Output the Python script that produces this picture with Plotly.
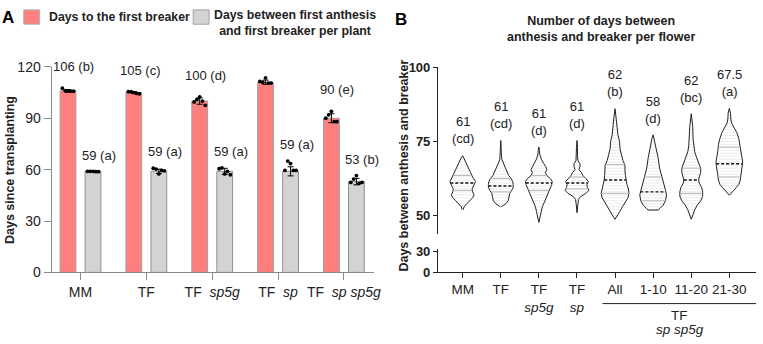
import numpy as np
import plotly.graph_objects as go

W, H = 763, 344
def px(x): return x / W
def py(y): return 1 - y / H

FONT = "Arial, Liberation Sans, sans-serif"
RED = "#FF7F7F"
GREY = "#D3D3D3"
AX_A = "#8a8a8a"

# ---------------- Panel A data ----------------
genotypes = ["MM", "TF", "TF\u00a0\u00a0<i>sp5g</i>", "TF\u00a0\u00a0<i>sp</i>",
             "TF\u00a0\u00a0<i>sp</i>\u00a0<i>sp5g</i>"]
breaker_days = [106, 105, 100, 111, 90]
breaker_letters = ["b", "c", "d", "a", "e"]
breaker_points = [[107.5, 106, 105.8, 105.8, 105.8],
                  [105.5, 105.5, 105, 104.5, 104.3],
                  [99.5, 101, 102.5, 100, 97.5],
                  [111.5, 111, 113.5, 110.5, 110.5],
                  [90, 92, 94, 88, 88]]
anthesis_days = [59, 59, 59, 59, 53]
anthesis_letters = ["a", "a", "a", "a", "b"]
anthesis_points = [[59, 59, 59, 58.8, 58.8],
                   [60.8, 60.3, 57.5, 59.5, 59.3],
                   [60.5, 61, 57.5, 59, 57],
                   [59.5, 65, 63.5, 59.5, 59.5],
                   [52.5, 54.5, 56.5, 52, 52.5]]
legend_labels = ["Days to the first breaker",
                 "Days between first anthesis<br>and first breaker per plant"]

# ---------------- Panel B data ----------------
flower_groups = ["MM", "TF", "TF<br><i>sp5g</i>", "TF<br><i>sp</i>", "All", "1-10", "11-20", "21-30"]
flower_medians = [61, 60, 61, 61, 62, 58, 62, 67.5]
flower_q1 = [58.5, 58, 58.5, 59, 57.5, 55, 57.5, 63]
flower_q3 = [63.5, 62.5, 63.5, 63, 67.2, 63, 66, 73.1]
flower_labels = ["61<br>(cd)", "61<br>(cd)", "61<br>(d)", "61<br>(d)", "62<br>(b)",
                 "58<br>(d)", "62<br>(bc)", "67.5<br>(a)"]

mm_days = [52, 53, 54, 55, 56, 57, 58, 59, 60, 61, 61.5, 62, 63, 64.5, 66, 68, 69.5, 70.2]
mm_density = [0.5, 1.5, 4, 7, 10, 11.5, 10, 9.5, 11, 12.5, 13, 12, 10, 8, 6, 3.5, 1.5, 0]
tf_days = [53, 53.3, 54, 55, 56.5, 57.5, 58.5, 59.5, 60.5, 61.5, 62.5, 63.5, 65, 66.5, 68, 69, 70, 72, 75.3]
tf_density = [0.5, 2, 5, 7.5, 8.5, 9, 11, 12.5, 12.5, 12, 10.5, 8, 6, 4, 2, 1, 0.7, 0.5, 0]
sp5g_days = [47.7, 48.5, 50, 51.5, 53, 54.5, 56, 57.5, 59, 60.5, 61.5, 62.5, 63.5, 64.5, 65.5, 66.5, 67.5, 69, 70.5, 72, 73.1]
sp5g_density = [0, 0.8, 1.5, 2.5, 3.5, 5.5, 7.5, 9, 11, 13, 13.5, 11.5, 8, 6.5, 8, 7, 5, 2.5, 1, 0.6, 0]
sp_days = [51, 52, 54, 55.5, 56.5, 57.5, 58.5, 59.5, 60.5, 61.5, 62.5, 63.5, 64.5, 65.5, 66.5, 67.5, 68.5, 70, 73, 75.3]
sp_density = [0, 0.5, 0.8, 1.5, 4, 9, 12, 10.5, 10, 11.5, 9, 6, 4.5, 2, 3, 3, 1, 0.5, 0.5, 0]
all_days = [48.8, 49.5, 50.5, 51.5, 53, 54.5, 56, 57.5, 59, 60.5, 62, 63.5, 65, 67, 68.5, 70.5, 72.5, 75, 77, 80, 83, 86]
all_density = [0, 1.5, 3.5, 5, 7.5, 10.5, 13, 14, 13.5, 12, 11, 10.5, 10, 10, 8, 6.5, 5, 4.5, 3, 2, 1.2, 0]
p1_10_days = [51.9, 51.9, 52.5, 53.5, 55, 57, 58.5, 60.5, 62, 64, 66, 69.5, 72, 74, 76, 77.2]
p1_10_density = [0, 5, 7, 10, 12.5, 13.5, 12.5, 11, 10, 8, 6.5, 5, 3.5, 2.5, 1.2, 0]
p11_20_days = [48.8, 49.5, 50.5, 52, 53.5, 55, 56.5, 58, 59.5, 61, 62, 63, 64.5, 66, 67.5, 69.5, 71.5, 73.5, 76, 80, 84.3]
p11_20_density = [0, 1, 2, 3.5, 6, 9.5, 11.5, 11.5, 10.5, 8, 7.5, 8, 9.5, 9.5, 7.5, 5.5, 3.5, 2.5, 1.8, 1.5, 0]
p21_30_days = [56.9, 57.5, 58.5, 59.5, 60.5, 62, 63.5, 65, 66.5, 68, 70, 72, 74, 76, 78, 79.5, 81, 82.5, 84.5, 86.1]
p21_30_density = [0, 2, 4.5, 7, 9.5, 11, 11.5, 12, 13, 13.5, 12.5, 11.5, 11, 9.5, 7.5, 5, 2.5, 1.5, 1.2, 0]

violin_days = [mm_days, tf_days, sp5g_days, sp_days, all_days, p1_10_days, p11_20_days, p21_30_days]
violin_density = [mm_density, tf_density, sp5g_density, sp_density, all_density,
                  p1_10_density, p11_20_density, p21_30_density]

fig = go.Figure()

# ---------------- Panel A traces ----------------
OFF = 0.19
BW = 0.24
xa = np.arange(len(genotypes))
red_sd = [float(np.std(p, ddof=1)) for p in breaker_points]
grey_sd = [float(np.std(p, ddof=1)) for p in anthesis_points]
fig.add_trace(go.Bar(x=xa - OFF, y=breaker_days, width=BW, marker=dict(color=RED, line=dict(color="#a0a0a0", width=1)),
                     error_y=dict(type="data", array=red_sd, color="black", thickness=1, width=3),
                     xaxis="x", yaxis="y", showlegend=False, hoverinfo="skip"))
fig.add_trace(go.Bar(x=xa + OFF, y=anthesis_days, width=BW, marker=dict(color=GREY, line=dict(color="#909090", width=1)),
                     error_y=dict(type="data", array=grey_sd, color="black", thickness=1, width=3),
                     xaxis="x", yaxis="y", showlegend=False, hoverinfo="skip"))
dx = [-0.085, -0.042, 0, 0.042, 0.085]
for pts_list, off in ((breaker_points, -OFF), (anthesis_points, OFF)):
    xs, ys = [], []
    for i, pts in enumerate(pts_list):
        for j, v in enumerate(pts):
            xs.append(i + off + dx[j])
            ys.append(v)
    fig.add_trace(go.Scatter(x=xs, y=ys, mode="markers", marker=dict(color="black", size=3.8),
                             xaxis="x", yaxis="y", showlegend=False, hoverinfo="skip"))

annotations = []
for i in range(len(genotypes)):
    annotations.append(dict(x=i - OFF, y=max(breaker_points[i]) + 12.5, xref="x", yref="y",
                            text=f"{breaker_days[i]} ({breaker_letters[i]})", showarrow=False,
                            xshift=6, font=dict(size=13, color="#222")))
    annotations.append(dict(x=i + OFF, y=max(anthesis_points[i]) + 9.5, xref="x", yref="y",
                            text=f"{anthesis_days[i]} ({anthesis_letters[i]})", showarrow=False,
                            xshift=6, font=dict(size=13, color="#222")))

# ---------------- Panel B traces ----------------
S = 1 / 38.43  # category units per density unit
for i, (vd, dens) in enumerate(zip(violin_days, violin_density)):
    vd = np.array(vd, float); dens = np.array(dens, float)
    lx, ly = [], []
    for k in np.arange(np.ceil(vd[0]), np.floor(vd[-1]) + 1):
        w = np.interp(k, vd, dens) * S
        if w > 0.02:
            lx += [i - w * 0.92, i + w * 0.92, None]; ly += [k, k, None]
    fig.add_trace(go.Scatter(x=lx, y=ly, mode="lines", line=dict(color="#e2e2e2", width=0.7),
                             xaxis="x2", yaxis="y2", showlegend=False, hoverinfo="skip"))
    xs = list(i + dens * S) + list(i - dens[::-1] * S)
    ys = list(vd) + list(vd[::-1])
    fig.add_trace(go.Scatter(x=xs, y=ys, mode="lines", line=dict(color="#222", width=1),
                             xaxis="x2", yaxis="y2", showlegend=False, hoverinfo="skip"))
    for q in (flower_q1[i], flower_q3[i]):
        w = np.interp(q, vd, dens) * S
        fig.add_trace(go.Scatter(x=[i - w, i + w], y=[q, q], mode="lines", line=dict(color="#b0b0b0", width=0.9),
                                 xaxis="x2", yaxis="y2", showlegend=False, hoverinfo="skip"))
    m = flower_medians[i]
    w = np.interp(m, vd, dens) * S
    fig.add_trace(go.Scatter(x=[i - w, i + w], y=[m, m], mode="lines",
                             line=dict(color="#111", width=1.4, dash="3px,2px"),
                             xaxis="x2", yaxis="y2", showlegend=False, hoverinfo="skip"))
    annotations.append(dict(x=i, y=vd[-1] + 8.5, xref="x2", yref="y2", text=flower_labels[i],
                            showarrow=False, font=dict(size=13, color="#222")))

fig.add_trace(go.Scatter(x=[None], y=[None], xaxis="x2", yaxis="y3", showlegend=False, hoverinfo="skip"))

# ---------------- Text / legend ----------------
extra = [
    dict(x=px(8.5), y=py(10), text="<b>A</b>", font=dict(size=17, color="black")),
    dict(x=px(405), y=py(12), text="<b>B</b>", font=dict(size=17, color="black")),
    dict(x=px(47), y=py(9.5), text=f"<b>{legend_labels[0]}</b>", xanchor="left", font=dict(size=12.3, color="#222")),
    dict(x=px(298), y=py(16), text=f"<b>{legend_labels[1]}</b>", font=dict(size=12.3, color="#222")),
    dict(x=px(10), y=py(170), text="<b>Days since transplanting</b>", textangle=-90, font=dict(size=12.5, color="#222")),
    dict(x=px(408), y=py(165), text="<b>Days between anthesis and breaker</b>", textangle=-90,
         font=dict(size=12.5, color="#222")),
    dict(x=px(607), y=py(21.5), text="<b>Number of days between<br>anthesis and breaker per flower</b>",
         font=dict(size=12.5, color="#222")),
    dict(x=px(686), y=py(322), text="TF", font=dict(size=13.5, color="#222")),
    dict(x=px(686), y=py(337), text="<i>sp sp5g</i>", font=dict(size=13.5, color="#222")),
]
for a in extra:
    a.setdefault("xref", "paper"); a.setdefault("yref", "paper"); a.setdefault("showarrow", False)
    a.setdefault("xanchor", "center"); a.setdefault("yanchor", "middle")
annotations += extra

shapes = [
    dict(type="rect", xref="paper", yref="paper", x0=px(24), x1=px(40), y0=py(17), y1=py(2),
         fillcolor=RED, line=dict(color="#b0b0b0", width=1)),
    dict(type="rect", xref="paper", yref="paper", x0=px(195), x1=px(211), y0=py(17), y1=py(2),
         fillcolor=GREY, line=dict(color="#a0a0a0", width=1)),
    dict(type="line", xref="paper", yref="paper", x0=px(608), x1=px(763), y0=py(310), y1=py(310),
         line=dict(color="#222", width=1)),
]

fig.update_layout(
    width=W, height=H, margin=dict(l=0, r=0, t=0, b=0),
    paper_bgcolor="white", plot_bgcolor="white",
    font=dict(family=FONT, color="#222"),
    barmode="overlay", showlegend=False,
    annotations=annotations, shapes=shapes,
    xaxis=dict(domain=[px(52), px(377)], range=[-0.44, 4.45], anchor="y",
               tickvals=list(xa), ticktext=genotypes, ticks="outside", ticklen=7, tickcolor=AX_A,
               showline=True, linecolor=AX_A, linewidth=1, showgrid=False, zeroline=False,
               tickfont=dict(size=14, color="#222")),
    yaxis=dict(domain=[py(277.3), py(61.7)], range=[0, 120], anchor="x",
               tickvals=[0, 30, 60, 90, 120], ticks="outside", ticklen=7, tickcolor=AX_A,
               showline=True, linecolor=AX_A, linewidth=1, showgrid=False, zeroline=False,
               tickfont=dict(size=14, color="#222")),
    xaxis2=dict(domain=[px(442), 1.0], range=[-0.65, 7.7], anchor="y3",
                tickvals=list(range(len(flower_groups))), ticktext=flower_groups,
                ticks="outside", ticklen=5, tickcolor="#222",
                showline=True, linecolor="#222", linewidth=1, showgrid=False, zeroline=False,
                tickfont=dict(size=13.5, color="#222")),
    yaxis2=dict(domain=[py(236.5), py(62)], range=[44, 100], anchor="x2",
                tickvals=[50, 75, 100], ticktext=["<b>50</b>", "<b>75</b>", "<b>100</b>"],
                ticks="outside", ticklen=4, tickcolor="#222",
                showline=True, linecolor="#222", linewidth=1, showgrid=False, zeroline=False,
                tickfont=dict(size=13, color="#222")),
    yaxis3=dict(domain=[py(277), py(252.8)], range=[0, 33], anchor="x2",
                tickvals=[0, 30], ticktext=["<b>0</b>", "<b>30</b>"],
                ticks="outside", ticklen=4, tickcolor="#222",
                showline=True, linecolor="#222", linewidth=1, showgrid=False, zeroline=False,
                tickfont=dict(size=13, color="#222")),
)

fig.write_html("out.html")
